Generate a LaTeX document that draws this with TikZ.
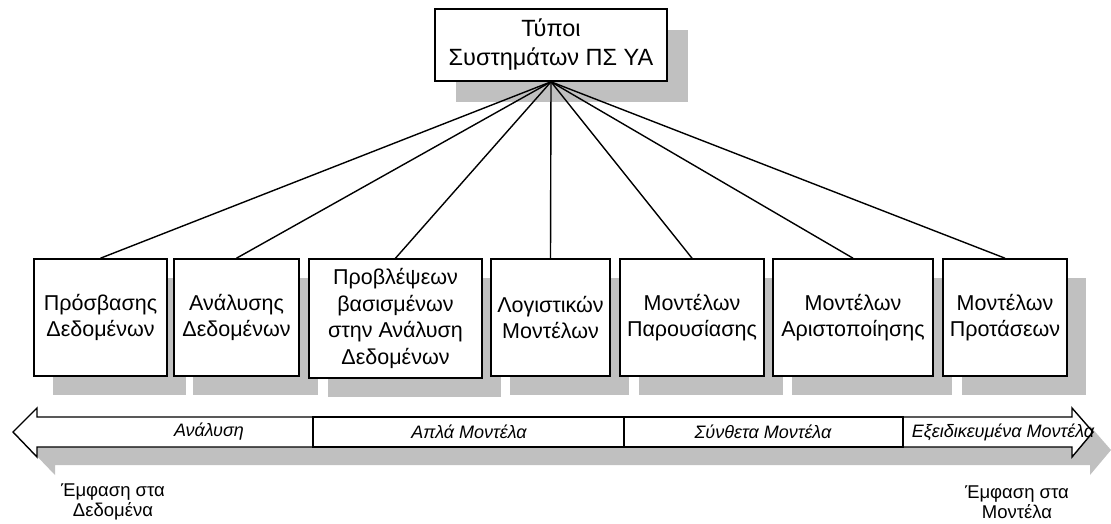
\documentclass[tikz,border=0pt]{standalone}
\usepackage{fontspec}
\setmainfont{Liberation Sans}
\usetikzlibrary{shadows}
\definecolor{shadowgray}{RGB}{192,192,192}
\begin{document}
\begin{tikzpicture}[x=1pt,y=-1pt,
  basebox/.style={draw=black, line width=1.6pt, fill=white, inner sep=0pt, align=center},
  box/.style={basebox, font=\fontsize{21.5}{26.5}\selectfont, minimum height=117pt,
    general shadow={shadow xshift=19pt, shadow yshift=-19pt, fill=shadowgray}},
  topbox/.style={basebox, font=\fontsize{23.5}{29}\selectfont, minimum width=232pt, minimum height=72pt,
    general shadow={shadow xshift=21pt, shadow yshift=-21pt, fill=shadowgray}},
  link/.style={line width=1.4pt},
  bandtext/.style={font=\fontsize{18}{20}\selectfont\itshape, inner sep=0pt},
  note/.style={align=center, inner sep=0pt, font=\fontsize{18.5}{19.5}\selectfont}]
\useasboundingbox (0,0) rectangle (1111,523);

% top node
\node[topbox] (top) at (551,45) {Τύποι\\Συστημάτων ΠΣ ΥΑ};

% bottom boxes
\node[box, minimum width=133pt] (b1) at (100.5,317.5) {Πρόσβασης\\Δεδομένων};
\node[box, minimum width=125pt] (b2) at (236.5,317.5) {Ανάλυσης\\Δεδομένων};
\node[box, minimum width=173pt, minimum height=119pt] (b3) at (395.5,318.5) {Προβλέψεων\\βασισμένων\\στην Ανάλυση\\Δεδομένων};
\node[box, minimum width=119pt] (b4) at (550.5,317.5) {Λογιστικών\\Μοντέλων};
\node[box, minimum width=144pt] (b5) at (692,317.5) {Μοντέλων\\Παρουσίασης};
\node[box, minimum width=160pt] (b6) at (853,317.5) {Μοντέλων\\Αριστοποίησης};
\node[box, minimum width=124pt] (b7) at (1005,317.5) {Μοντέλων\\Προτάσεων};

% connectors
\foreach \b in {b1,b2,b3,b4,b5,b6,b7}
  \draw[link] (top.south) -- (\b.north);

% double arrow band with shadow
\fill[shadowgray, shift={(18,18)}] (13,432) -- (37,408) -- (37,417) -- (1072,417) -- (1072,408)
  -- (1093,432) -- (1072,457) -- (1072,447) -- (37,447) -- (37,457) -- cycle;
\draw[fill=white, line width=1.4pt, line join=miter] (13,432) -- (37,408) -- (37,417) -- (1072,417) -- (1072,408)
  -- (1093,432) -- (1072,457) -- (1072,447) -- (37,447) -- (37,457) -- cycle;
\draw[line width=1.4pt] (313,417) rectangle (624,447);
\draw[line width=1.4pt] (624,417) rectangle (903,447);

% band labels
\node[bandtext] (s1) at (209,432) {Ανάλυση};
\node[bandtext] (s2) at (469,432) {Απλά Μοντέλα};
\node[bandtext] (s3) at (763,432) {Σύνθετα Μοντέλα};
\node[bandtext] (s4) at (1003,432) {Εξειδικευμένα Μοντέλα};

% end notes
\node[note] (e1) at (113,502) {Έμφαση στα\\Δεδομένα};
\node[note] (e2) at (1017,502) {Έμφαση στα\\Μοντέλα};
\end{tikzpicture}
\end{document}
